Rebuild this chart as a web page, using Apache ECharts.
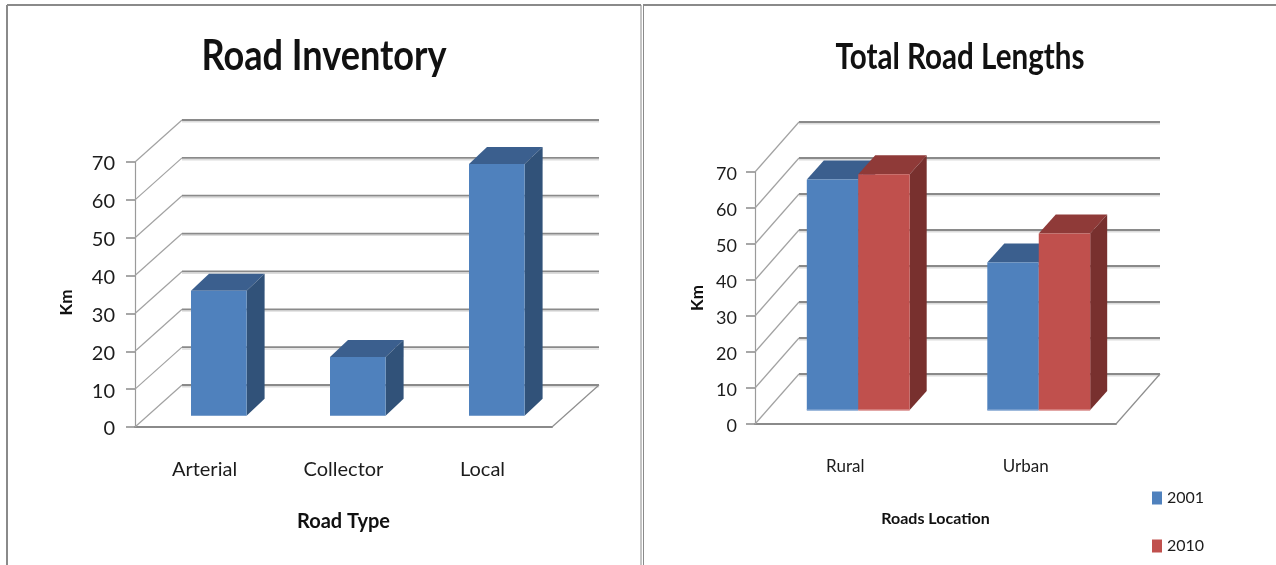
<!DOCTYPE html>
<html>
<head>
<meta charset="utf-8">
<style>
  html, body { margin: 0; padding: 0; background: #fff; }
  #chart { width: 1276px; height: 565px; }
</style>
<script src="https://cdn.jsdelivr.net/npm/echarts@6/dist/echarts.min.js"></script>
</head>
<body>
<div id="chart"></div>
<script>
// Road inventory by type
const inventoryCategories = ['Arterial', 'Collector', 'Local'];
const inventoryKm = [33, 15.5, 66.5];

// Total road length by location
const locationCategories = ['Rural', 'Urban'];
const km2001 = [64, 41];
const km2010 = [65.5, 49];
const legendYears = ['2001', '2010'];

const yTicks = [0, 10, 20, 30, 40, 50, 60, 70];

const FONT = 'Lato, "Open Sans", sans-serif';
const TEXT = '#1c1c1c';
const BLUE = { front: '#4f81bd', top: '#3b5f8e', side: '#315279' };
const RED = { front: '#c0504d', top: '#8f3a38', side: '#78302e' };

// Back wall and side wall gridlines, plus the floor's right edge.
function wallRenderer(depth) {
  return function (params, api) {
    const rect = params.coordSys;
    const y = api.coord([0, api.value(1)])[1];
    const left = rect.x, right = rect.x + rect.width;
    const children = [
      { type: 'line', shape: { x1: left + depth.dx, y1: y + depth.dy + 1.8, x2: right + depth.dx, y2: y + depth.dy + 1.8 },
        style: { stroke: '#dcdcdc', lineWidth: 1.5 } },
      { type: 'line', shape: { x1: left + depth.dx, y1: y + depth.dy, x2: right + depth.dx, y2: y + depth.dy },
        style: { stroke: '#8a8a8a', lineWidth: 1.8 } },
      { type: 'line', shape: { x1: left, y1: y, x2: left + depth.dx, y2: y + depth.dy },
        style: { stroke: '#a2a2a2', lineWidth: 1.2 } }
    ];
    if (api.value(1) === 0) {
      children.push({ type: 'line', shape: { x1: right, y1: y, x2: right + depth.dx, y2: y + depth.dy },
        style: { stroke: '#8e8e8e', lineWidth: 1.2 } });
    }
    return { type: 'group', silent: true, children };
  };
}

// One extruded column; its front face sits part-way into the floor.
function columnRenderer(palette, widthShare, slot, depth, edge) {
  return function (params, api) {
    const cat = api.value(0), val = api.value(1);
    const band = api.size([1, 0])[0];
    const cx = api.coord([cat, 0])[0];
    const floorY = api.coord([cat, 0])[1];
    const topY = api.coord([cat, val])[1];
    const w = band * widthShare;
    const x0 = cx + depth.inX + slot * w;
    const x1 = x0 + w;
    const yb = floorY + depth.inY;
    const yt = topY + depth.inY;
    const d = depth.barX, e = depth.barY;
    const children = [
      { type: 'polygon', shape: { points: [[x0, yt], [x1, yt], [x1 + d, yt + e], [x0 + d, yt + e]] }, style: { fill: palette.top } },
      { type: 'polygon', shape: { points: [[x1, yb], [x1, yt], [x1 + d, yt + e], [x1 + d, yb + e]] }, style: { fill: palette.side } },
      { type: 'rect', shape: { x: x0, y: yt, width: w, height: yb - yt }, style: { fill: palette.front } }
    ];
    if (edge) {
      children.push({ type: 'line', shape: { x1: x0, y1: yb, x2: x1, y2: yb }, style: { stroke: edge, lineWidth: 1.5 } });
    }
    return { type: 'group', children };
  };
}

function wallSeries(gridIndex, depth) {
  return {
    type: 'custom', xAxisIndex: gridIndex, yAxisIndex: gridIndex, z: 1, silent: true,
    renderItem: wallRenderer(depth),
    encode: { x: 0, y: 1 },
    data: yTicks.map(t => [0, t])
  };
}

function columnSeries(gridIndex, name, values, palette, widthShare, slot, depth, edge, z) {
  return {
    type: 'custom', name, xAxisIndex: gridIndex, yAxisIndex: gridIndex, z,
    itemStyle: { color: palette.front },
    renderItem: columnRenderer(palette, widthShare, slot, depth, edge),
    encode: { x: 0, y: 1 },
    data: values.map((v, i) => [i, v])
  };
}

function xAxis(gridIndex, categories, name, nameSize, nameGap, margin, labelSize) {
  return {
    type: 'category', gridIndex, data: categories,
    name, nameLocation: 'middle', nameGap,
    nameTextStyle: { fontFamily: FONT, fontWeight: 'bold', fontSize: nameSize, color: '#111' },
    axisTick: { show: false },
    axisLine: { lineStyle: { color: '#8a8a8a', width: 1.8 } },
    axisLabel: { fontFamily: FONT, fontSize: labelSize, color: TEXT, margin }
  };
}

function yAxis(gridIndex, nameGap, labelSize, margin, namePadding) {
  return {
    type: 'value', gridIndex, min: 0, max: 70, interval: 10,
    name: 'Km', nameLocation: 'middle', nameRotate: 90, nameGap,
    nameTextStyle: { fontFamily: FONT, fontWeight: 'bold', fontSize: 17, color: '#111', padding: namePadding },
    splitLine: { show: false },
    axisLine: { show: true, onZero: false, lineStyle: { color: '#9a9a9a', width: 1.2 } },
    axisTick: { show: true, length: 9, lineStyle: { color: '#8a8a8a', width: 1.5 } },
    axisLabel: { fontFamily: FONT, fontSize: labelSize, color: TEXT, margin, verticalAlign: 'top', lineHeight: 4 }
  };
}

const leftDepth = { dx: 47, dy: -42, inX: -13.5, inY: -11.3, barX: 18, barY: -17 };
const rightDepth = { dx: 44, dy: -50, inX: 13, inY: -14, barX: 17, barY: -19 };

const frame = '#8a8a8a';
const panelLines = [
  [7, 5, 7, 565, 2], [7, 5, 641, 5, 2], [641, 5, 641, 565, 1],
  [643.5, 5, 643.5, 565, 1], [643, 5, 1276, 5, 2]
];

// Chart headings are squeezed horizontally to the narrow face used on the panels.
function heading(text, cx, cy, size, squeeze) {
  return {
    type: 'text', silent: true, x: cx, y: cy, scaleX: squeeze,
    style: { text, fontFamily: FONT, fontSize: size, fontWeight: 'bold', fill: '#111',
      textAlign: 'center', textVerticalAlign: 'middle' }
  };
}

const chart = echarts.init(document.getElementById('chart'), null, { renderer: 'canvas' });
chart.setOption({
  animation: false,
  backgroundColor: '#fff',
  legend: {
    data: legendYears, orient: 'vertical', left: 1152, top: 490, padding: 0,
    itemWidth: 10, itemHeight: 13, itemGap: 32,
    icon: 'rect',
    textStyle: { fontFamily: FONT, fontSize: 16, color: TEXT }
  },
  grid: [
    { left: 135, top: 162, width: 417, height: 265 },
    { left: 755, top: 172, width: 361, height: 252 }
  ],
  xAxis: [
    xAxis(0, inventoryCategories, 'Road Type', 20, 85, 33, 20),
    xAxis(1, locationCategories, 'Roads Location', 16, 87, 34, 17)
  ],
  yAxis: [yAxis(0, 60, 20, 20, [0, 16, 0, 0]), yAxis(1, 49, 18, 18, [0, 0, 0, 0])],
  series: [
    wallSeries(0, leftDepth),
    columnSeries(0, 'Road length', inventoryKm, BLUE, 0.4, 0, leftDepth, null, 3),
    wallSeries(1, rightDepth),
    columnSeries(1, '2001', km2001, BLUE, 0.285, -1, rightDepth, '#7fa3d1', 3),
    columnSeries(1, '2010', km2010, RED, 0.285, 0, rightDepth, '#d88a88', 4)
  ],
  graphic: panelLines.map(l => ({
    type: 'line', silent: true,
    shape: { x1: l[0], y1: l[1], x2: l[2], y2: l[3] },
    style: { stroke: frame, lineWidth: l[4] }
  })).concat([
    heading('Road Inventory', 324, 56, 42, 0.86),
    heading('Total Road Lengths', 960, 57, 37, 0.8)
  ])
});
</script>
</body>
</html>
